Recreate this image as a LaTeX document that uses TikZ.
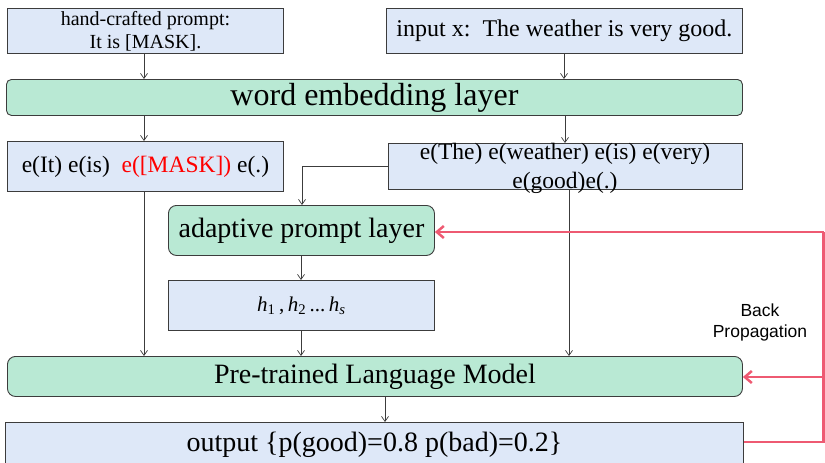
\documentclass[tikz,border=0pt]{standalone}
\usepackage{fontspec}
\setmainfont{Liberation Serif}
\newfontfamily\arialf{Liberation Sans}
\usetikzlibrary{arrows.meta}
\definecolor{bluefill}{HTML}{DEE8F8}
\definecolor{greenfill}{HTML}{B9E9D4}
\definecolor{boxline}{HTML}{3C3C3C}
\definecolor{bpred}{HTML}{EE5A72}
\begin{document}
\begin{tikzpicture}[x=1pt,y=-1pt,
  bluebox/.style={draw=boxline,fill=bluefill,line width=0.9pt,anchor=north west,inner sep=0pt,align=center},
  greenbox/.style={draw=boxline,fill=greenfill,line width=0.9pt,rounded corners=5pt,anchor=north west,inner sep=0pt,align=center},
  arr/.style={draw=boxline,line width=0.7pt,-{Straight Barb[length=5pt,width=7pt]}},
  redarr/.style={draw=bpred,line width=2.5pt,-{Straight Barb[length=7pt,width=12pt,line width=2.5pt]}},
  redline/.style={draw=bpred,line width=2.5pt}]
\useasboundingbox (0,0) rectangle (825,463);
\node[bluebox,minimum width=276pt,minimum height=45pt,font=\fontsize{20}{23}\selectfont] (hp) at (7,8) {hand-crafted prompt:\\It is [MASK].};
\node[bluebox,minimum width=356pt,minimum height=45pt,font=\fontsize{24}{28}\selectfont] (ix) at (386,8) {input x:\ \ The weather is very good.};
\node[greenbox,minimum width=736pt,minimum height=36pt,font=\fontsize{32}{36}\selectfont] (we) at (6,79) {word embedding layer};
\node[bluebox,minimum width=276pt,minimum height=50pt,font=\fontsize{23.5}{27}\selectfont] (eit) at (7,141) {e(It) e(is)\ \ \textcolor{red}{e([MASK])} e(.)};
\node[bluebox,minimum width=354pt,minimum height=46pt] (ethe) at (388,143) {};
\node[font=\fontsize{23.5}{29}\selectfont,align=center,inner sep=0pt] (etht) at (565,168) {e(The) e(weather) e(is) e(very)\\e(good)e(.)};
\node[greenbox,rounded corners=8pt,minimum width=266pt,minimum height=50pt,font=\fontsize{28}{32}\selectfont] (ap) at (168,205) {adaptive prompt layer};
\node[bluebox,minimum width=266pt,minimum height=50pt,font=\fontsize{21}{24}\selectfont] (hh) at (168,280) {\textit{h}\textsubscript{1}\,,\,\textit{h}\textsubscript{2}\,...\,\textit{h}\textsubscript{\textit{s}}};
\node[greenbox,rounded corners=8pt,minimum width=735pt,minimum height=40pt,font=\fontsize{28}{32}\selectfont] (plm) at (7,356) {Pre-trained Language Model};
\node[bluebox,minimum width=738pt,minimum height=44pt,font=\fontsize{28}{32}\selectfont] (out) at (5,422) {output \{p(good)=0.8 p(bad)=0.2\}};
\node[font=\arialf\fontsize{17.5}{21}\selectfont,align=center,inner sep=0pt] (bp) at (760,322) {Back\\Propagation};
% black connectors
\draw[arr] (hp.south -| 144,0) -- (we.north -| 144,0);
\draw[arr] (ix.south -| 564,0) -- (we.north -| 564,0);
\draw[arr] (we.south -| 144,0) -- (eit.north -| 144,0);
\draw[arr] (we.south -| 565,0) -- (ethe.north -| 565,0);
\draw[arr] (ethe.west |- 0,166) -| (ap.north -| 302,0);
\draw[arr] (eit.south -| 144,0) -- (plm.north -| 144,0);
\draw[arr] (ethe.south -| 569,0) -- (plm.north -| 569,0);
\draw[arr] (ap.south -| 301,0) -- (hh.north -| 301,0);
\draw[arr] (hh.south -| 301,0) -- (plm.north -| 301,0);
\draw[arr] (plm.south -| 385,0) -- (out.north -| 385,0);
% red back propagation
\coordinate (c1) at (823.5,442);
\coordinate (c2) at (823.5,232);
\coordinate (c3) at (823.5,377);
\draw[redline] (out.east |- c1) -- (c1) -- (c2);
\draw[redarr] (c2) -- (ap.east |- c2);
\draw[redarr] (c3) -- (plm.east |- c3);
\end{tikzpicture}
\end{document}
